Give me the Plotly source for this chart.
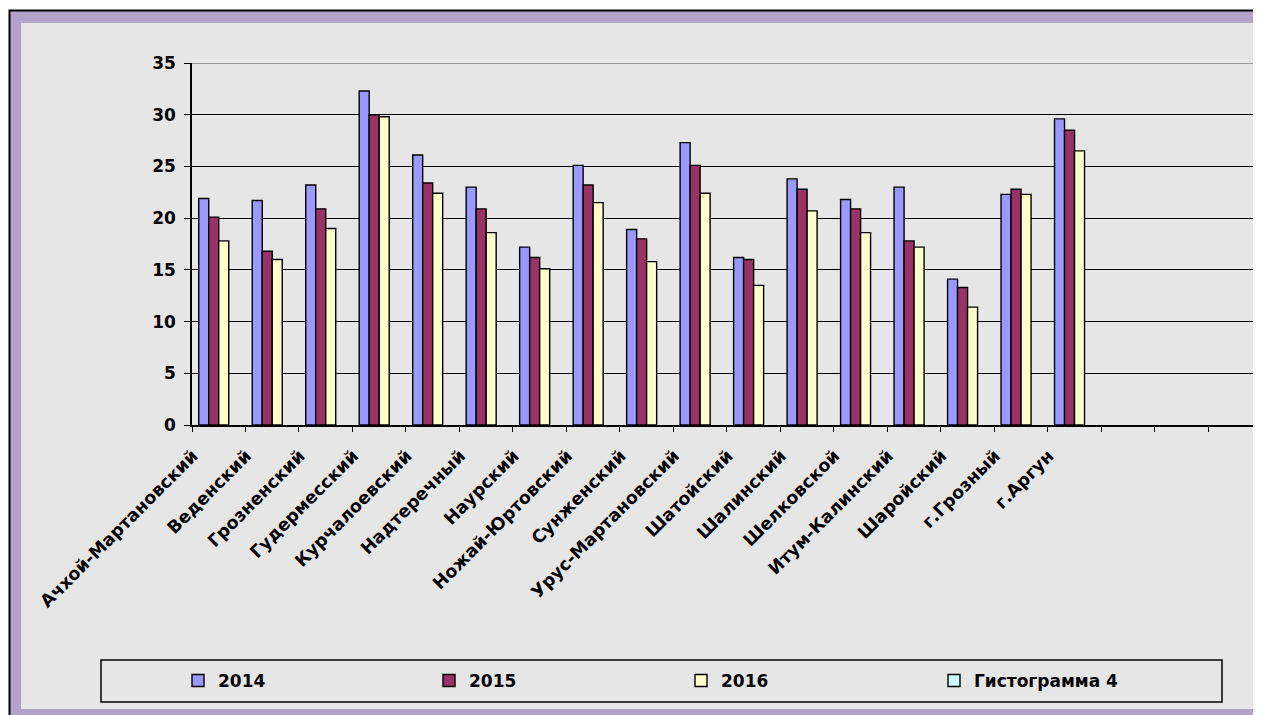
import plotly.graph_objects as go

categories = ["Ачхой-Мартановский", "Веденский", "Грозненский", "Гудермесский",
              "Курчалоевский", "Надтеречный", "Наурский", "Ножай-Юртовский",
              "Сунженский", "Урус-Мартановский", "Шатойский", "Шалинский",
              "Шелковской", "Итум-Калинский", "Шаройский", "г.Грозный", "г.Аргун"]
blank_categories = [" ", "  ", "   "]

v2014 = [21.9, 21.7, 23.2, 32.3, 26.1, 23.0, 17.2, 25.1, 18.9, 27.3, 16.2, 23.8, 21.8, 23.0, 14.1, 22.3, 29.6]
v2015 = [20.1, 16.8, 20.9, 30.0, 23.4, 20.9, 16.2, 23.2, 18.0, 25.1, 16.0, 22.8, 20.9, 17.8, 13.3, 22.8, 28.5]
v2016 = [17.8, 16.0, 19.0, 29.8, 22.4, 18.6, 15.1, 21.5, 15.8, 22.4, 13.5, 20.7, 18.6, 17.2, 11.4, 22.3, 26.5]
v_hist4 = [None] * len(categories)

series_names = ["2014", "2015", "2016", "Гистограмма 4"]
series_values = [v2014, v2015, v2016, v_hist4]
series_colors = ["#9999ff", "#993366", "#ffffcc", "#ccffff"]
y_ticks = [0, 5, 10, 15, 20, 25, 30, 35]

# page body has an 8px margin, so the figure is sized to fit the 1261x715 window
W, H = 1253, 707
PL, PR, PT, PB = 184, 1250, 55, 417   # plot area in figure pixels
FONT = "DejaVu Sans, Verdana, sans-serif"

def px_x(X):
    return (X - PL) / (PR - PL)

def px_y(Y):
    return (PB - Y) / (PB - PT)

fig = go.Figure()
legend_ids = ["legend", "legend2", "legend3", "legend4"]
legend_x = [170, 421, 673, 926]
for name, vals, col, lid in zip(series_names, series_values, series_colors, legend_ids):
    fig.add_trace(go.Bar(
        x=categories, y=vals, name=name,
        marker=dict(color=col, line=dict(color="black", width=1.4)),
        legend=lid, showlegend=True,
    ))

ncat = len(categories) + len(blank_categories)
fig.update_layout(
    width=W, height=H,
    margin=dict(l=PL, r=W - PR, t=PT, b=H - PB),
    paper_bgcolor="white",
    plot_bgcolor="rgba(0,0,0,0)",
    barmode="group", bargap=0.252, bargroupgap=0,
    font=dict(family=FONT, color="black"),
    xaxis=dict(
        type="category", categoryorder="array",
        categoryarray=categories + blank_categories,
        range=[-0.5, ncat - 0.57],
        tickangle=-45,
        tickfont=dict(family=FONT, size=17.5, color="black", weight="bold"),
        ticklabelshift=-26, ticklabelstandoff=12,
        tickson="boundaries",
        ticks="outside", ticklen=5, tickcolor="black", tickwidth=1,
        showline=True, linecolor="black", linewidth=1.5,
        showgrid=False, zeroline=False,
    ),
    yaxis=dict(
        range=[0, 35], tickvals=y_ticks,
        tickfont=dict(family=FONT, size=17, color="black", weight="bold"),
        ticklabelstandoff=5,
        ticks="outside", ticklen=6, tickcolor="black", tickwidth=1,
        showline=True, linecolor="black", linewidth=1.5,
        showgrid=True, gridcolor="black", gridwidth=1,
        zeroline=False,
    ),
    showlegend=True,
)

for lid, lx in zip(legend_ids, legend_x):
    fig.update_layout({lid: dict(
        xref="container", yref="container",
        x=lx / W, y=(H - 673) / H, xanchor="left", yanchor="middle",
        bgcolor="rgba(0,0,0,0)", borderwidth=0,
        font=dict(family=FONT, size=17, color="black", weight="bold"),
        orientation="h",
    )})

shapes = [
    # outer black frame + purple band
    dict(type="rect", xref="paper", yref="paper", layer="below",
         x0=px_x(1.5), x1=px_x(1270), y0=px_y(725), y1=px_y(2.5),
         fillcolor="#b3a3cb", line=dict(color="black", width=2)),
    # light granite-like inner background
    dict(type="rect", xref="paper", yref="paper", layer="below",
         x0=px_x(13), x1=px_x(1250), y0=px_y(701), y1=px_y(15),
         fillcolor="#e6e6e6", line=dict(width=0)),
    # top border of plot area (grey)
    dict(type="line", xref="paper", yref="y", layer="above",
         x0=0, x1=1, y0=35, y1=35, line=dict(color="#808080", width=1.5)),
    # legend box
    dict(type="rect", xref="paper", yref="paper", layer="above",
         x0=px_x(93), x1=px_x(1214), y0=px_y(694), y1=px_y(652),
         fillcolor="rgba(0,0,0,0)", line=dict(color="black", width=1.5)),
]
fig.update_layout(shapes=shapes)

fig.write_html("out.html")
